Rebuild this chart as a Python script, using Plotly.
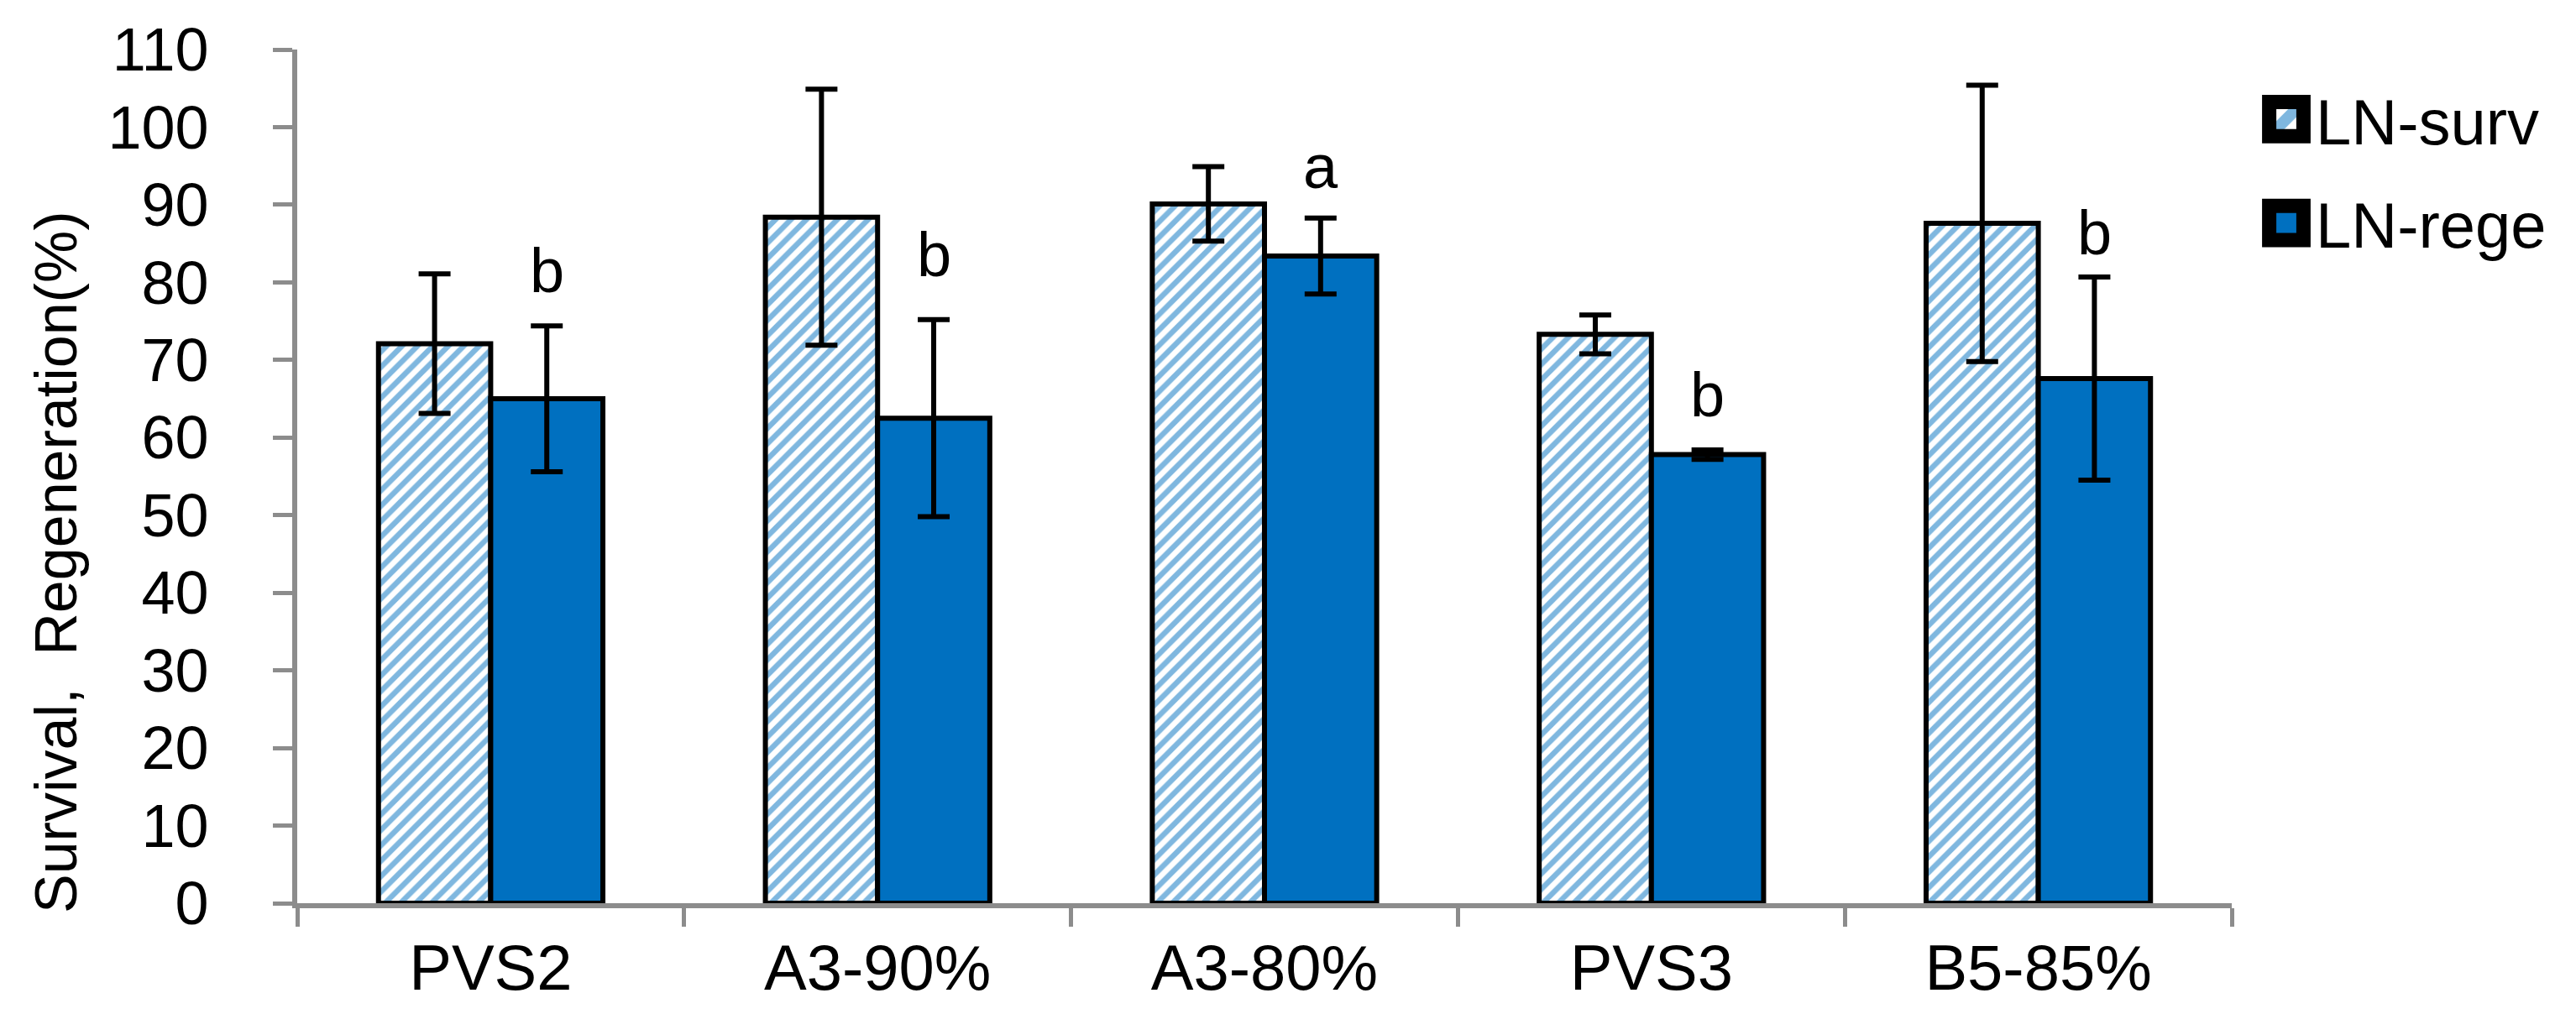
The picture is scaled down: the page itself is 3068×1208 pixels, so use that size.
import plotly.graph_objects as go

categories = ["PVS2", "A3-90%", "A3-80%", "PVS3", "B5-85%"]
surv = [72.1, 88.4, 90.1, 73.3, 87.6]
surv_err = [9.0, 16.5, 4.8, 2.5, 17.8]
rege = [65.0, 62.5, 83.4, 57.8, 67.6]
rege_err = [9.4, 12.7, 4.9, 0.6, 13.1]
letters = ["b", "b", "a", "b", "b"]
letter_y = [81.5, 83.6, 94.9, 65.5, 86.4]
y_ticks = list(range(0, 111, 10))

BLUE = "#0070C0"
AXIS = "#8C8C8C"
FONT = "Liberation Sans, Arial, sans-serif"

W, H = 3068, 1208
L, R, T, B = 346, 418, 51, 140
plot_w = W - L - R
plot_h = H - T - B
bargap = 0.42
bar_w_px = plot_w / len(categories) * (1 - bargap) / 2

fig = go.Figure()
fig.add_trace(go.Bar(
    name="LN-surv", x=categories, y=surv,
    marker=dict(color="white", line=dict(color="black", width=6),
                pattern=dict(shape="/", fgcolor=BLUE, bgcolor="white", size=13, solidity=0.5)),
    error_y=dict(type="data", array=surv_err, visible=True, color="black", thickness=6, width=19),
    legendgroup="s",
))
fig.add_trace(go.Bar(
    name="LN-rege", x=categories, y=rege,
    marker=dict(color=BLUE, line=dict(color="black", width=6)),
    error_y=dict(type="data", array=rege_err, visible=True, color="black", thickness=6, width=19),
    legendgroup="r",
))

for c, t, yv in zip(categories, letters, letter_y):
    fig.add_annotation(x=c, y=yv, text=t, showarrow=False, xshift=bar_w_px / 2,
                       font=dict(family=FONT, size=74, color="black"))

# y-axis title (placed like the original: lower than axis centre)
fig.add_annotation(xref="paper", yref="paper", x=(59 - L) / plot_w, y=(H - B - 662) / plot_h,
                   text="Survival,  Regeneration(%)", textangle=-90, showarrow=False,
                   xanchor="center", yanchor="middle",
                   font=dict(family=FONT, size=70, color="black"))

fig.update_layout(
    width=W, height=H,
    margin=dict(l=L, r=R, t=T, b=B, autoexpand=False),
    paper_bgcolor="white", plot_bgcolor="white",
    barmode="group", bargap=bargap, bargroupgap=0,
    font=dict(family=FONT, size=72, color="black"),
    legend=dict(x=(2680 - L) / plot_w, y=(H - B - 78) / plot_h, xanchor="left", yanchor="top",
                font=dict(family=FONT, size=76, color="black"), itemwidth=60,
                tracegroupgap=22, traceorder="grouped", bgcolor="rgba(0,0,0,0)"),
    showlegend=True,
)
fig.update_xaxes(
    showline=True, linecolor=AXIS, linewidth=6, ticks="outside", tickson="boundaries",
    ticklen=22, tickwidth=5, tickcolor=AXIS, showgrid=False, zeroline=False,
    tickfont=dict(family=FONT, size=76, color="black"), ticklabelstandoff=6,
)
fig.update_yaxes(
    range=[0, 110], tickvals=y_ticks, showline=True, linecolor=AXIS, linewidth=6,
    ticks="outside", ticklen=23, tickwidth=5, tickcolor=AXIS, showgrid=False, zeroline=False,
    tickfont=dict(family=FONT, size=72, color="black"), ticklabelstandoff=62,
)

post = """
var gd = document.getElementsByClassName('plotly-graph-div')[0];
function bigIcons(){
  document.querySelectorAll('.legendpoints').forEach(function(el){
    if (el.getAttribute('data-big')) return;
    var bb = el.getBBox();
    var cx = bb.x + bb.width/2, cy = bb.y + bb.height/2;
    var s = 3.4;
    el.setAttribute('transform', 'translate(' + cx + ',' + cy + ') scale(' + s + ') translate(' + (-cx) + ',' + (-cy) + ')');
    el.setAttribute('data-big', '1');
  });
}
bigIcons();
gd.on('plotly_afterplot', bigIcons);
"""
fig.write_html("out.html", post_script=post)
